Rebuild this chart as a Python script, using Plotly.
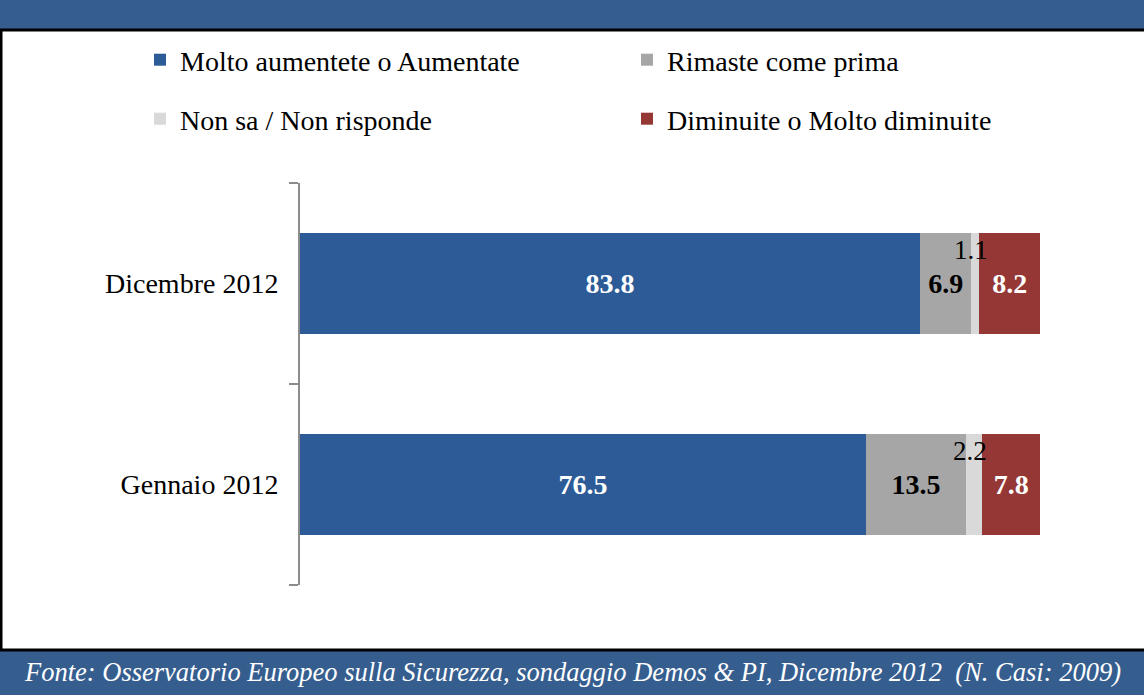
import plotly.graph_objects as go

# periodi (dal basso verso l'alto)
periodi = ["Gennaio 2012", "Dicembre 2012"]

aumentate = [76.5, 83.8]
rimaste = [13.5, 6.9]
non_sa = [2.2, 1.1]
diminuite = [7.8, 8.2]

serie_nomi = [
    "Molto aumentete o Aumentate",
    "Rimaste come prima",
    "Non sa / Non risponde",
    "Diminuite o Molto diminuite",
]

fonte = "Fonte: Osservatorio Europeo sulla Sicurezza, sondaggio Demos & PI, Dicembre 2012  (N. Casi: 2009)"

W, H = 1144, 695
L, R, T, B = 300, 104, 183, 110
PW, PH = W - L - R, H - T - B

FONT = "Liberation Serif, Times New Roman, serif"
BLU, GRIGIO, GRIGIO_CH, ROSSO = "#2c5b98", "#a6a6a6", "#d9d9d9", "#953735"
BANDA = "#355e8f"


def px_x(p):
    return (p - L) / PW


def px_y(p):
    return 1 - (p - T) / PH


fig = go.Figure()

fig.add_trace(go.Bar(
    y=periodi, x=aumentate, name=serie_nomi[0], orientation="h",
    marker=dict(color=BLU, line=dict(width=0)),
    text=[f"<b>{v}</b>" for v in aumentate], textposition="inside",
    insidetextanchor="middle", textangle=0,
    textfont=dict(color="white", size=28, family=FONT),
    legend="legend",
))
fig.add_trace(go.Bar(
    y=periodi, x=rimaste, name=serie_nomi[1], orientation="h",
    marker=dict(color=GRIGIO, line=dict(width=0)),
    text=[f"<b>{v}</b>" for v in rimaste], textposition="inside",
    insidetextanchor="middle", textangle=0,
    textfont=dict(color="black", size=28, family=FONT),
    legend="legend",
))
fig.add_trace(go.Bar(
    y=periodi, x=non_sa, name=serie_nomi[2], orientation="h",
    marker=dict(color=GRIGIO_CH, line=dict(width=0)),
    legend="legend2",
))
fig.add_trace(go.Bar(
    y=periodi, x=diminuite, name=serie_nomi[3], orientation="h",
    marker=dict(color=ROSSO, line=dict(width=0)),
    text=[f"<b>{v}</b>" for v in diminuite], textposition="inside",
    insidetextanchor="middle", textangle=0,
    textfont=dict(color="white", size=28, family=FONT),
    legend="legend2",
))

# etichette piccole sopra il segmento "Non sa"
for i, p in enumerate(periodi):
    xc = aumentate[i] + rimaste[i] + non_sa[i] / 2
    fig.add_annotation(
        x=xc, y=p, text=str(non_sa[i]), showarrow=False,
        xanchor="center", yanchor="middle", xshift=-4,
        yshift=34, font=dict(size=27, color="black", family=FONT),
    )

# bande e bordi
fig.add_shape(type="rect", xref="paper", yref="paper",
              x0=px_x(0), x1=px_x(W), y0=px_y(0), y1=px_y(29),
              fillcolor=BANDA, line_width=0, layer="below")
fig.add_shape(type="rect", xref="paper", yref="paper",
              x0=px_x(0), x1=px_x(W), y0=px_y(651), y1=px_y(H),
              fillcolor=BANDA, line_width=0, layer="below")
fig.add_shape(type="line", xref="paper", yref="paper",
              x0=px_x(0), x1=px_x(W), y0=px_y(30), y1=px_y(30),
              line=dict(color="black", width=3))
fig.add_shape(type="line", xref="paper", yref="paper",
              x0=px_x(0), x1=px_x(W), y0=px_y(650), y1=px_y(650),
              line=dict(color="black", width=3))
fig.add_shape(type="line", xref="paper", yref="paper",
              x0=px_x(1), x1=px_x(1), y0=px_y(30), y1=px_y(651),
              line=dict(color="black", width=3))

fig.add_annotation(
    xref="paper", yref="paper", x=px_x(572), y=px_y(672),
    xanchor="center", yanchor="middle",
    text=f"<i>{fonte}</i>", showarrow=False,
    font=dict(size=26.5, color="white", family=FONT),
)

legend_base = dict(
    orientation="h", xanchor="left", yanchor="middle",
    font=dict(size=28, color="black", family=FONT),
    bgcolor="rgba(0,0,0,0)", entrywidth=442, entrywidthmode="pixels",
    itemsizing="constant", traceorder="normal",
)

fig.update_layout(
    width=W, height=H,
    margin=dict(l=L, r=R, t=T, b=B),
    paper_bgcolor="white", plot_bgcolor="white",
    barmode="stack", bargap=0.5,
    showlegend=True,
    legend=dict(legend_base, x=px_x(140), y=px_y(60)),
    legend2=dict(legend_base, x=px_x(140), y=px_y(119)),
    xaxis=dict(range=[0, 100], visible=False, fixedrange=True),
    yaxis=dict(
        categoryorder="array", categoryarray=periodi,
        showline=True, linecolor="#8c8c8c", linewidth=2,
        ticks="outside", tickson="boundaries", ticklen=9,
        tickcolor="#8c8c8c", tickwidth=2,
        tickfont=dict(size=28, color="black", family=FONT),
        ticklabelstandoff=14, fixedrange=True,
        showgrid=False, zeroline=False,
    ),
)

fig.write_html("out.html", config={"displayModeBar": False},
               post_script="document.body.style.margin='0';")
